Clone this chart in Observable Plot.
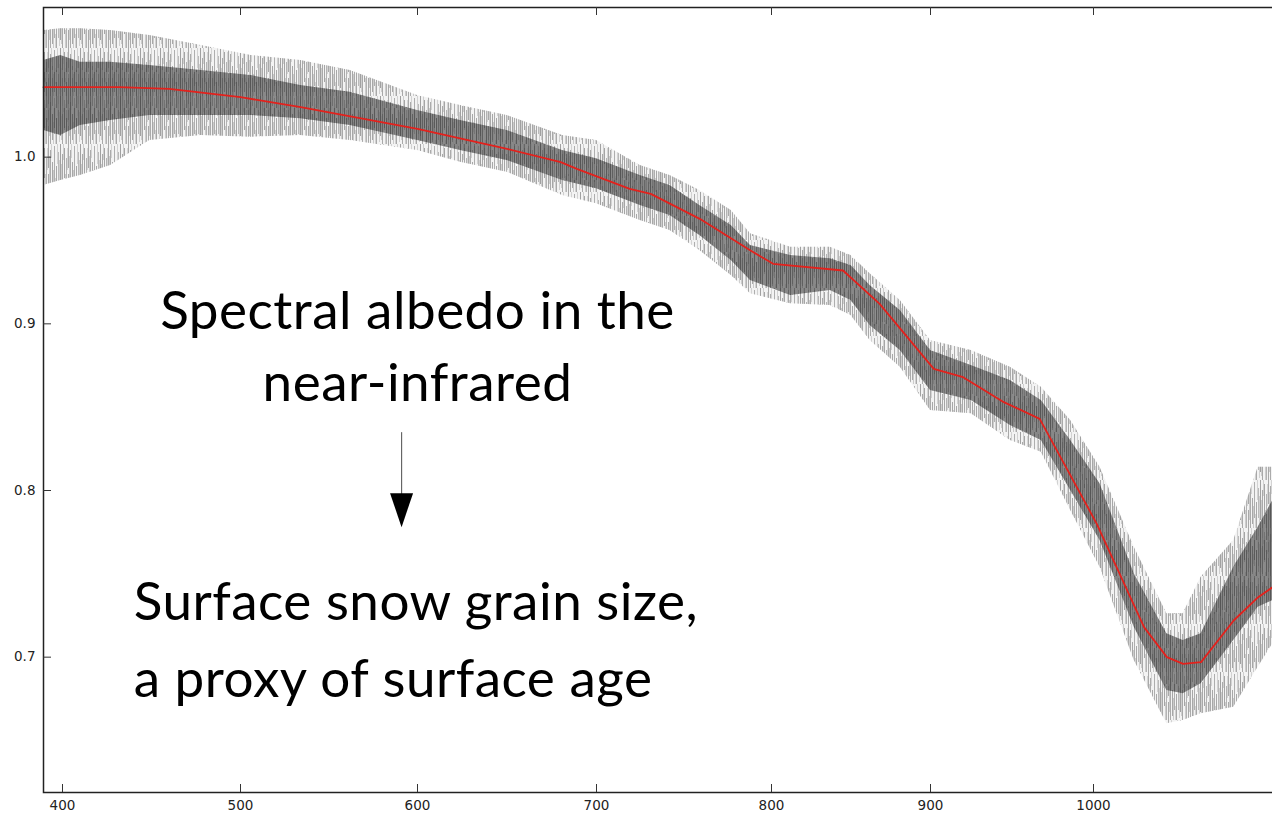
<!DOCTYPE html>
<html>
<head>
<meta charset="utf-8">
<script src="https://cdn.jsdelivr.net/npm/d3@7"></script>
<script src="https://cdn.jsdelivr.net/npm/@observablehq/plot@0.6"></script>
<style>
  html, body { margin: 0; padding: 0; background: #fff; overflow: hidden; }
  #chart svg { max-width: none !important; display: block; }
</style>
</head>
<body>
<div id="chart"></div>
<script>
// Envelope of the repeated albedo measurements (nm → albedo):
// outer reach of the noise spikes and the dense core of the spectra.
const bandWavelength = [389.3, 399, 410, 427, 449, 478, 506, 534, 562, 600, 624, 650, 681, 700, 725, 742, 759, 777, 788, 812, 837, 850, 862, 881, 900, 925, 949, 968, 986, 1004, 1025, 1045, 1055, 1066, 1086, 1101, 1110];
const spikeHigh = [1.076, 1.077, 1.077, 1.076, 1.073, 1.067, 1.061, 1.058, 1.052, 1.037, 1.031, 1.025, 1.013, 1.010, 0.995, 0.989, 0.980, 0.968, 0.954, 0.946, 0.946, 0.941, 0.930, 0.914, 0.890, 0.884, 0.874, 0.862, 0.842, 0.814, 0.766, 0.726, 0.726, 0.748, 0.770, 0.814, 0.814];
const coreHigh = [1.058, 1.061, 1.057, 1.057, 1.055, 1.052, 1.049, 1.043, 1.039, 1.028, 1.022, 1.016, 1.004, 0.999, 0.989, 0.983, 0.971, 0.959, 0.947, 0.941, 0.939, 0.935, 0.923, 0.908, 0.884, 0.875, 0.866, 0.854, 0.830, 0.804, 0.750, 0.714, 0.710, 0.714, 0.754, 0.778, 0.794];
const coreLow = [1.016, 1.013, 1.019, 1.022, 1.025, 1.025, 1.025, 1.023, 1.019, 1.010, 1.004, 0.998, 0.986, 0.981, 0.971, 0.965, 0.953, 0.938, 0.926, 0.917, 0.920, 0.914, 0.899, 0.884, 0.860, 0.854, 0.839, 0.830, 0.800, 0.770, 0.718, 0.680, 0.678, 0.684, 0.710, 0.730, 0.734];
const spikeLow = [0.983, 0.986, 0.989, 0.995, 1.010, 1.013, 1.012, 1.013, 1.010, 1.004, 0.997, 0.991, 0.977, 0.972, 0.962, 0.956, 0.944, 0.929, 0.918, 0.912, 0.911, 0.905, 0.890, 0.874, 0.848, 0.846, 0.830, 0.823, 0.788, 0.754, 0.698, 0.660, 0.662, 0.666, 0.670, 0.694, 0.708];

// Smoothed spectral albedo (red curve)
const smoothWavelength = [389.3, 432, 460, 500, 534, 600, 650, 680, 689, 719, 731, 759, 788, 801, 845, 868, 902, 920, 945, 967, 1002, 1031, 1045, 1055, 1066, 1086, 1101, 1110];
const smoothAlbedo = [1.042, 1.042, 1.041, 1.036, 1.030, 1.017, 1.005, 0.997, 0.993, 0.981, 0.978, 0.963, 0.944, 0.936, 0.932, 0.912, 0.873, 0.868, 0.853, 0.843, 0.780, 0.718, 0.700, 0.696, 0.697, 0.722, 0.736, 0.742];

// Axis ticks
const xTicks = [400, 500, 600, 700, 800, 900, 1000];
const yTicks = [0.7, 0.8, 0.9, 1.0];

// Annotation text
const titleLines = ["Spectral albedo in the", "near-infrared"];
const resultLines = ["Surface snow grain size,", "a proxy of surface age"];

// ---------------------------------------------------------------
const band = bandWavelength.map((w, i) => ({
  w, sh: spikeHigh[i], ch: coreHigh[i], cl: coreLow[i], sl: spikeLow[i]
}));
const smooth = smoothWavelength.map((w, i) => ({w, a: smoothAlbedo[i]}));

// Layout of the plotting frame (pixels)
const W = 1300, H = 815;
const frameLeft = 43, frameTop = 7, frameBottom = 792;

// The wavelength axis is unevenly spaced: tick gaps narrow above 800 nm.
// A piecewise-linear warp carries wavelengths onto that axis.
const xEdge = 1120;
const xStops = [389.3, 400, 500, 600, 700, 800, 900, 1000, xEdge];
const xPixels = [43, 62, 240, 417, 596, 771, 930, 1093, 1093 + (xEdge - 1000) * 1.63];
const warp = d3.scaleLinear().domain(xStops).range(xPixels);
const frameRight = xPixels[xPixels.length - 1];
const frameW = frameRight - frameLeft, frameH = frameBottom - frameTop;

// Annotation anchors, in data units
const titleX = 600, titleBaselines = [0.897, 0.8535];
const resultX = 440, resultBaselines = [0.7225, 0.676];
const arrow = {w: 591, from: 0.835, to: 0.778, neck: 0.792};

// Filled, elongated arrow head with its tip at the anchor point
const arrowHead = {
  draw(context) {
    context.moveTo(-11.5, -34);
    context.lineTo(11.5, -34);
    context.lineTo(0, 0);
    context.closePath();
  }
};

const annotationFont = "Lato, 'Noto Sans', sans-serif";
const annotationSize = 53;

const chart = Plot.plot({
  width: W,
  height: H,
  marginLeft: frameLeft,
  marginTop: frameTop,
  marginRight: W - frameRight,
  marginBottom: H - frameBottom,
  style: {fontFamily: "'DejaVu Sans', sans-serif", fontSize: "13.5px", color: "#222", background: "#fff"},
  x: {
    transform: warp,
    domain: [frameLeft, frameRight], range: [frameLeft, frameRight],
    ticks: xTicks.map(warp), tickSize: 0, tickPadding: 8,
    tickFormat: p => d3.format("d")(Math.round(warp.invert(p))), label: null
  },
  y: {
    domain: [0.6188, 1.0898],
    ticks: yTicks, tickSize: 0, tickPadding: 8,
    tickFormat: d3.format(".1f"), label: null
  },
  marks: [
    // light noise spikes
    Plot.areaY(band, {x: "w", y1: "sl", y2: "sh", fill: "#c4c4c4", fillOpacity: 0.2}),
    Plot.areaY(band, {x: "w", y1: "sl", y2: "sh", fill: "url(#spikes)"}),
    // dense core of the spectra
    Plot.areaY(band, {x: "w", y1: "cl", y2: "ch", fill: "url(#coreTexture)"}),
    // smoothed albedo
    Plot.line(smooth, {x: "w", y: "a", stroke: "#e3211c", strokeWidth: 1.8}),
    // frame and inward ticks
    Plot.frame({stroke: "#222", strokeWidth: 1.5}),
    Plot.tickX(xTicks, {x: d => d, insetTop: frameH - 8, stroke: "#333"}),
    Plot.tickX(xTicks, {x: d => d, insetBottom: frameH - 8, stroke: "#333"}),
    Plot.tickY(yTicks, {y: d => d, insetRight: frameW - 8, stroke: "#333"}),
    // annotations
    Plot.text(titleLines, {
      x: () => titleX, y: (d, i) => titleBaselines[i], text: d => d,
      textAnchor: "middle", lineAnchor: "bottom",
      fontFamily: annotationFont, fontSize: annotationSize, fill: "#000",
      className: "annotation"
    }),
    Plot.text(resultLines, {
      x: () => resultX, y: (d, i) => resultBaselines[i], text: d => d,
      textAnchor: "start", lineAnchor: "bottom",
      fontFamily: annotationFont, fontSize: annotationSize, fill: "#000",
      className: "annotation"
    }),
    Plot.link([arrow], {x1: "w", x2: "w", y1: "from", y2: "neck", stroke: "#666", strokeWidth: 1.2}),
    Plot.dot([arrow], {x: "w", y: "to", symbol: arrowHead, fill: "#000", stroke: "none"})
  ]
});

// Slightly open tracking for the annotation lettering
d3.select(chart).selectAll(".annotation text").style("letter-spacing", "0.5px");

// Vertical hatch textures that give the bands their spiky look
const defs = d3.select(chart).insert("defs", ":first-child");
function hatch(id, width, height, base, strokes) {
  const p = defs.append("pattern")
    .attr("id", id).attr("patternUnits", "userSpaceOnUse")
    .attr("width", width).attr("height", height);
  if (base) p.append("rect").attr("width", width).attr("height", height)
    .attr("fill", base[0]).attr("fill-opacity", base[1]);
  strokes.forEach(([x, y, h, c, o]) => p.append("rect")
    .attr("x", x).attr("y", y).attr("width", 1).attr("height", h)
    .attr("fill", c).attr("fill-opacity", o));
}
// light outer spikes: broken strokes leave a ragged edge
hatch("spikes", 20, 48, null, [
  [0, 0, 40, "#8c8c8c", 0.8], [2, 10, 38, "#9c9c9c", 0.85], [4, 4, 30, "#858585", 0.7],
  [6, 14, 34, "#a8a8a8", 0.85], [8, 0, 24, "#909090", 0.75], [8, 30, 18, "#909090", 0.75],
  [10, 6, 42, "#989898", 0.8], [12, 18, 26, "#888", 0.7], [14, 2, 36, "#a2a2a2", 0.85],
  [16, 22, 26, "#8f8f8f", 0.75], [18, 8, 30, "#aaa", 0.8],
  [1, 20, 24, "#b5b5b5", 0.6], [3, 0, 16, "#b0b0b0", 0.55], [5, 30, 18, "#b5b5b5", 0.6],
  [7, 4, 22, "#bbb", 0.55], [9, 12, 28, "#b2b2b2", 0.6], [11, 0, 14, "#b8b8b8", 0.55],
  [13, 26, 22, "#b0b0b0", 0.6], [15, 34, 14, "#b5b5b5", 0.55], [17, 0, 20, "#bcbcbc", 0.6],
  [19, 16, 30, "#b3b3b3", 0.55]
]);
// dark core of overlapping spectra
hatch("coreTexture", 10, 36, ["#5e5e5e", 0.72], [
  [0, 0, 36, "#333", 0.45], [2, 6, 28, "#444", 0.4], [4, 0, 20, "#2a2a2a", 0.35],
  [6, 10, 26, "#3a3a3a", 0.45], [8, 2, 30, "#4a4a4a", 0.35],
  [1, 0, 36, "#8a8a8a", 0.4], [5, 12, 20, "#999", 0.4], [7, 0, 10, "#909090", 0.35], [9, 18, 18, "#888", 0.35],
  [3, 24, 12, "#959595", 0.35]
]);

document.getElementById("chart").append(chart);
</script>
</body>
</html>
